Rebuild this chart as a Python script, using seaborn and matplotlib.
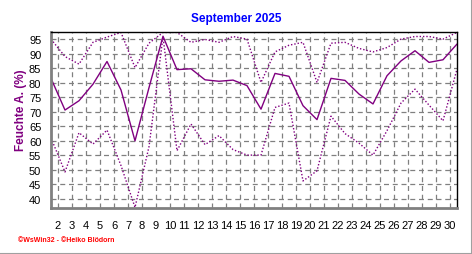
import numpy as np
import pandas as pd
import matplotlib
matplotlib.use("Agg")
import matplotlib.pyplot as plt
import seaborn as sns
from matplotlib.ticker import MultipleLocator
from matplotlib.lines import Line2D

days = list(range(1, 31))
hum_max = [95, 89.0, 86.4, 93.9, 95.7, 97.3, 85.2, 93.6, 97.3, 97.3, 93.9, 94.9, 93.9, 95.9, 95.0,
           80.1, 90.6, 92.9, 93.9, 80.1, 93.6, 93.9, 91.8, 90.6, 92.1, 95.0, 95.9, 95.9, 95.0, 97.3]
hum_mean = [81.5, 70.6, 73.8, 79.5, 87.3, 77.5, 60.0, 78.3, 96.0, 84.5, 84.8, 81.0, 80.5, 80.9, 79.0,
            70.9, 83.2, 82.2, 72.1, 67.3, 81.5, 80.8, 76.1, 72.7, 82.4, 87.5, 91.0, 87.0, 87.9, 93.3]
hum_min = [61.0, 49.3, 62.8, 58.9, 63.7, 51.5, 37.1, 58.0, 95.8, 56.6, 65.8, 58.7, 61.8, 57.0, 55.1,
           55.1, 71.5, 73.0, 46.2, 49.7, 68.5, 62.5, 59.2, 55.1, 63.5, 73.0, 77.8, 72.3, 66.9, 84.7]
tick_labels = [str(d) for d in range(2, 31)]
y_ticks = list(range(40, 96, 5))

title = "September 2025"
ylabel = "Feuchte A. (%)"
footer = "\u00a9WsWin32 - \u00a9Heiko Bl\u00f6dorn"

df = pd.DataFrame({"day": days, "max": hum_max, "mean": hum_mean, "min": hum_min})

sns.set_theme(style="white")
plt.rcParams["font.family"] = ["Liberation Sans", "DejaVu Sans"]

W, H = 472, 255
fig = plt.figure(figsize=(W / 100, H / 100), dpi=100)
fig.patch.set_facecolor("white")
L, R, T, B = 51, 457, 33, 209
ax = fig.add_axes([L / W, 1 - B / H, (R - L) / W, (B - T) / H])
ax.set_facecolor("white")

purple = "#800080"
sns.lineplot(data=df, x="day", y="max", ax=ax, color=purple, lw=1.0,
             linestyle=(0, (1, 1.4)))
sns.lineplot(data=df, x="day", y="mean", ax=ax, color=purple, lw=1.0)
sns.lineplot(data=df, x="day", y="min", ax=ax, color=purple, lw=1.0,
             linestyle=(0, (1, 1.4)))

ax.set_xlim(1, 30)
ax.set_ylim(36.9, 97.45)

xt = [d + 0.5 for d in range(1, 30)]
ax.set_xticks(xt)
ax.set_xticklabels(tick_labels)
ax.xaxis.set_minor_locator(MultipleLocator(1 / 6))
ax.set_yticks(y_ticks)
ax.set_yticklabels([str(v) for v in y_ticks])
ax.yaxis.set_minor_locator(MultipleLocator(1))

ax.grid(True, which="major", color="#808080", linestyle=(0, (4, 3)), lw=0.9)
ax.set_axisbelow(True)

ax.tick_params(axis="both", which="major", labelsize=8, colors="#808080",
               labelcolor="black", length=3, width=0.8, direction="out")
ax.tick_params(axis="x", which="major", pad=6)
ax.tick_params(axis="y", which="major", pad=4)
ax.tick_params(axis="both", which="minor", colors="#808080", length=2.2, width=0.7,
               direction="out")

for s in ["left", "bottom"]:
    ax.spines[s].set_color("#808080")
    ax.spines[s].set_linewidth(2.0)
for s in ["top", "right"]:
    ax.spines[s].set_color("black")
    ax.spines[s].set_linewidth(1.0)
    ax.spines[s].set_visible(True)

ax.set_xlabel("")
ax.set_ylabel("")
fig.text(21 / W, 1 - 110 / H, ylabel, rotation=90, ha="center", va="center",
         color=purple, fontsize=8.5, fontweight="bold")
fig.text(0.5, 1 - 19 / H, title, ha="center", va="center", color="#0000FF",
         fontsize=8.5, fontweight="bold")
fig.text(18 / W, 1 - 241 / H, footer, ha="left", va="center", color="#FF0000",
         fontsize=5, fontweight="bold")

fig.add_artist(Line2D([0, 1], [0.5 / H, 0.5 / H], color="#a0a0a0", lw=1.5,
                      transform=fig.transFigure))
fig.add_artist(Line2D([1 - 0.5 / W, 1 - 0.5 / W], [0, 1], color="#a0a0a0", lw=1.5,
                      transform=fig.transFigure))

fig.savefig("out.png", dpi=100)
